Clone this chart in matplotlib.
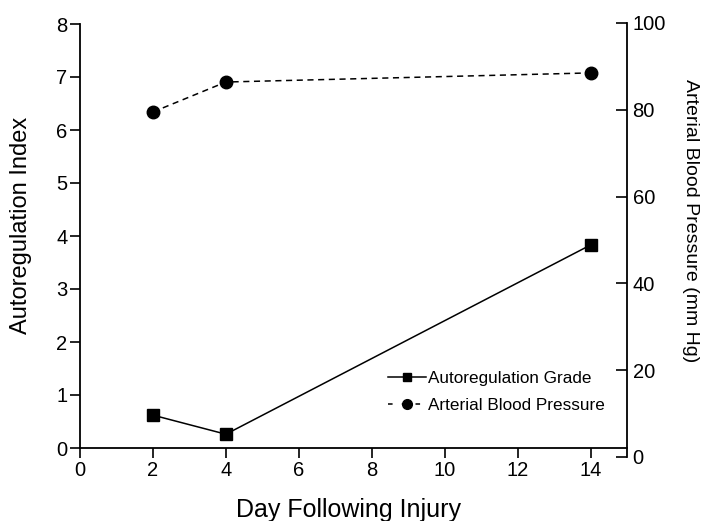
import matplotlib
matplotlib.use("Agg")
import matplotlib.pyplot as plt
from matplotlib.lines import Line2D

plt.rcParams["font.family"] = ["Liberation Sans", "DejaVu Sans"]

days = [2, 4, 14]
autoreg_grade = [0.62, 0.26, 3.83]
blood_pressure = [79.5, 86.4, 88.5]

left_ticks = [0, 1, 2, 3, 4, 5, 6, 7, 8]
right_ticks = [0, 20, 40, 60, 80, 100]
x_ticks = [0, 2, 4, 6, 8, 10, 12, 14]

fig = plt.figure(figsize=(7.05, 5.21), dpi=100)
ax = fig.add_axes([80 / 705, 73 / 521, 547 / 705, 424 / 521])
# the pressure axis is a bit taller: its 0 sits below the x axis line
ax2 = fig.add_axes([80 / 705, 64 / 521, 547 / 705, 434 / 521], sharex=ax)
ax2.patch.set_visible(False)

ax.plot(days, autoreg_grade, color="black", lw=1.1, marker="s", ms=8,
        clip_on=False, zorder=3)
ax.set_xlim(0, 15)
ax.set_ylim(0, 8)
ax.set_xticks(x_ticks)
ax.set_yticks(left_ticks)
ax.spines["top"].set_visible(False)
ax.spines["right"].set_visible(False)
for s in ("left", "bottom"):
    ax.spines[s].set_linewidth(1.3)
ax.tick_params(direction="out", length=7, width=1.2, labelsize=14.5, pad=2)

ax2.plot(days, blood_pressure, color="black", lw=1.1, ls=(0, (4, 3)),
         marker="o", ms=9, clip_on=False, zorder=3)
ax2.set_ylim(0, 100)
ax2.set_yticks(right_ticks)
ax2.yaxis.tick_right()
ax2.xaxis.set_visible(False)
for s in ("top", "left", "bottom"):
    ax2.spines[s].set_visible(False)
ax2.spines["right"].set_linewidth(1.3)
ax2.tick_params(direction="in", length=8, width=1.2, labelsize=14.5, pad=4)

# axis titles placed where they sit in the original
fig.text(348 / 705, 4 / 521, "Day Following Injury", fontsize=18,
         ha="center", va="baseline")
fig.text(21 / 705, 1 - 225 / 521, "Autoregulation Index", fontsize=17,
         rotation=90, ha="center", va="center")
fig.text(691 / 705, 1 - 221 / 521, "Arterial Blood Pressure (mm Hg)",
         fontsize=14, rotation=270, ha="center", va="center")

handles = [
    Line2D([], [], color="black", lw=1.1, marker="s", ms=6),
    Line2D([], [], color="black", lw=1.1, ls=(0, (3, 6)), marker="o", ms=7),
]
ax.legend(handles, ["Autoregulation Grade", "Arterial Blood Pressure"],
          loc="center left", bbox_to_anchor=(0.563, 0.133), frameon=False,
          fontsize=12.3, handlelength=2.2, handletextpad=0.15,
          labelspacing=0.7, borderpad=0, borderaxespad=0)

fig.savefig("out.png", dpi=100)
